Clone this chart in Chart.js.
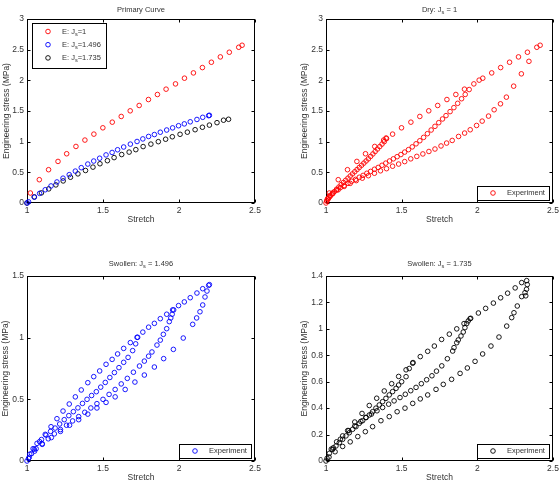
<!DOCTYPE html>
<html>
<head>
<meta charset="utf-8">
<script src="https://cdn.jsdelivr.net/npm/chart.js@4.4.1/dist/chart.umd.min.js"></script>
<style>
  html, body { margin: 0; padding: 0; background: #fff; }
  #figure { position: relative; width: 559px; height: 489px; overflow: hidden; }
  #figure canvas { position: absolute; }
</style>
</head>
<body>
<div id="figure">
  <canvas id="chart-primary" width="280" height="245" style="left:0;top:0"></canvas>
  <canvas id="chart-dry" width="279" height="245" style="left:280px;top:0"></canvas>
  <canvas id="chart-sw1" width="280" height="244" style="left:0;top:245px"></canvas>
  <canvas id="chart-sw2" width="279" height="244" style="left:280px;top:245px"></canvas>
</div>
<script>
// tick labels
const stretchTicks = [1, 1.5, 2, 2.5];
const stressTicksDry = [0, 0.5, 1, 1.5, 2, 2.5, 3];
const stressTicksSw1 = [0, 0.5, 1, 1.5];
const stressTicksSw2 = [0, 0.2, 0.4, 0.6, 0.8, 1, 1.2, 1.4];

// primary curves (Js = 1, 1.496, 1.735)
const primaryDryStretch = [1.022, 1.081, 1.142, 1.204, 1.261, 1.322, 1.381, 1.440, 1.499, 1.561, 1.620, 1.679, 1.738, 1.799, 1.858, 1.915, 1.977, 2.036, 2.095, 2.154, 2.213, 2.272, 2.331, 2.393, 2.415];
const primaryDryStress = [0.163, 0.380, 0.543, 0.678, 0.803, 0.922, 1.026, 1.123, 1.226, 1.318, 1.411, 1.503, 1.590, 1.687, 1.769, 1.856, 1.942, 2.035, 2.121, 2.208, 2.295, 2.382, 2.458, 2.539, 2.572];

const primarySw1Stretch = [1.00, 1.01, 1.048, 1.083, 1.12, 1.158, 1.197, 1.237, 1.278, 1.318, 1.357, 1.40, 1.439, 1.478, 1.52, 1.56, 1.596, 1.636, 1.68, 1.724, 1.762, 1.80, 1.838, 1.877, 1.919, 1.958, 1.997, 2.035, 2.074, 2.118, 2.156, 2.195, 2.20];
const primarySw1Stress = [0.00, 0.02, 0.095, 0.157, 0.216, 0.278, 0.343, 0.405, 0.462, 0.52, 0.576, 0.635, 0.684, 0.73, 0.784, 0.824, 0.868, 0.913, 0.96, 1.003, 1.045, 1.085, 1.116, 1.154, 1.19, 1.225, 1.26, 1.29, 1.324, 1.362, 1.397, 1.424, 1.43];

const primarySw2Stretch = [1.00, 1.048, 1.095, 1.143, 1.19, 1.238, 1.286, 1.335, 1.385, 1.434, 1.48, 1.529, 1.573, 1.623, 1.672, 1.716, 1.764, 1.815, 1.864, 1.912, 1.956, 2.007, 2.055, 2.106, 2.154, 2.20, 2.25, 2.293, 2.326];
const primarySw2Stress = [0.00, 0.10, 0.165, 0.23, 0.295, 0.36, 0.42, 0.475, 0.53, 0.585, 0.64, 0.69, 0.74, 0.79, 0.83, 0.87, 0.92, 0.96, 1.0, 1.04, 1.08, 1.12, 1.155, 1.195, 1.235, 1.27, 1.31, 1.35, 1.365];

// dry experiment: extra points and unloading branches
const dryPairStretch = [1.0, 1.397, 2.012];
const dryPairStress = [0.0, 1.06, 2.003];
const dryUnload1Stretch = [1.40, 1.385, 1.37, 1.355, 1.34, 1.325, 1.31, 1.295, 1.28, 1.265, 1.25, 1.235, 1.22, 1.205, 1.19, 1.175, 1.16, 1.145, 1.13, 1.115, 1.10, 1.085, 1.07, 1.055, 1.04, 1.028, 1.016, 1.006];
const dryUnload1Stress = [1.05, 1.00, 0.96, 0.92, 0.88, 0.84, 0.80, 0.76, 0.72, 0.685, 0.65, 0.615, 0.58, 0.545, 0.51, 0.475, 0.44, 0.405, 0.37, 0.335, 0.30, 0.26, 0.225, 0.185, 0.145, 0.11, 0.07, 0.03];
const dryUnload2Stretch = [1.946, 1.92, 1.896, 1.87, 1.845, 1.82, 1.793, 1.77, 1.745, 1.72, 1.695, 1.67, 1.645, 1.62, 1.595, 1.57, 1.545, 1.52, 1.495, 1.47, 1.445, 1.42, 1.395, 1.37, 1.345, 1.32, 1.295, 1.27, 1.245, 1.22, 1.195, 1.17, 1.145, 1.12, 1.095, 1.07, 1.045, 1.025, 1.01];
const dryUnload2Stress = [1.85, 1.77, 1.70, 1.625, 1.555, 1.49, 1.425, 1.37, 1.31, 1.25, 1.19, 1.13, 1.07, 1.015, 0.965, 0.915, 0.87, 0.83, 0.79, 0.755, 0.72, 0.685, 0.65, 0.615, 0.58, 0.55, 0.515, 0.485, 0.45, 0.42, 0.385, 0.355, 0.32, 0.285, 0.25, 0.21, 0.165, 0.12, 0.07];
const dryUnload3Stretch = [2.341, 2.291, 2.24, 2.192, 2.153, 2.111, 2.074, 2.032, 1.995, 1.953, 1.916, 1.876, 1.834, 1.797, 1.76, 1.72, 1.68, 1.64, 1.60, 1.56, 1.52, 1.48, 1.44, 1.40, 1.36, 1.32, 1.28, 1.24, 1.20, 1.16, 1.12, 1.08, 1.045, 1.02, 1.005];
const dryUnload3Stress = [2.31, 2.106, 1.905, 1.726, 1.617, 1.52, 1.417, 1.335, 1.264, 1.194, 1.14, 1.085, 1.02, 0.977, 0.93, 0.88, 0.84, 0.80, 0.76, 0.72, 0.675, 0.635, 0.60, 0.56, 0.525, 0.485, 0.445, 0.405, 0.365, 0.32, 0.27, 0.215, 0.155, 0.095, 0.04];

// swollen Js = 1.496
const sw1PairStretch = [1.728, 1.965];
const sw1PairStress = [1.003, 1.225];
const sw1Unload1Stretch = [1.715, 1.695, 1.665, 1.636, 1.605, 1.575, 1.545, 1.515, 1.485, 1.456, 1.425, 1.395, 1.365, 1.335, 1.305, 1.275, 1.245, 1.215, 1.185, 1.155, 1.125, 1.095, 1.066, 1.04, 1.018];
const sw1Unload1Stress = [0.95, 0.895, 0.84, 0.80, 0.757, 0.717, 0.677, 0.637, 0.599, 0.562, 0.531, 0.50, 0.467, 0.431, 0.40, 0.368, 0.335, 0.30, 0.267, 0.24, 0.21, 0.174, 0.143, 0.10, 0.055];
const sw1Unload2Stretch = [1.955, 1.946, 1.936, 1.919, 1.897, 1.877, 1.855, 1.822, 1.80, 1.772, 1.74, 1.70, 1.66, 1.62, 1.58, 1.54, 1.50, 1.46, 1.42, 1.38, 1.34, 1.30, 1.26, 1.22, 1.18, 1.14, 1.10, 1.06, 1.03];
const sw1Unload2Stress = [1.19, 1.16, 1.13, 1.073, 1.027, 0.98, 0.94, 0.884, 0.85, 0.81, 0.77, 0.72, 0.67, 0.625, 0.58, 0.54, 0.50, 0.465, 0.43, 0.395, 0.36, 0.325, 0.29, 0.255, 0.22, 0.18, 0.14, 0.10, 0.06];
const sw1Unload3Stretch = [2.184, 2.171, 2.156, 2.138, 2.116, 2.09, 2.028, 1.963, 1.899, 1.838, 1.772, 1.71, 1.646, 1.58, 1.52, 1.46, 1.40, 1.34, 1.28, 1.22, 1.16, 1.10, 1.05, 1.015];
const sw1Unload3Stress = [1.378, 1.33, 1.265, 1.21, 1.16, 1.108, 0.997, 0.905, 0.83, 0.762, 0.697, 0.64, 0.58, 0.52, 0.475, 0.43, 0.38, 0.335, 0.29, 0.24, 0.19, 0.135, 0.08, 0.03];

// swollen Js = 1.735
const sw2Unload1Stretch = [1.575, 1.55, 1.529, 1.50, 1.48, 1.463, 1.44, 1.418, 1.396, 1.374, 1.352, 1.33, 1.308, 1.286, 1.264, 1.242, 1.22, 1.198, 1.176, 1.154, 1.132, 1.11, 1.088, 1.066, 1.044, 1.022, 1.007];
const sw2Unload1Stress = [0.745, 0.70, 0.638, 0.60, 0.575, 0.55, 0.525, 0.50, 0.474, 0.449, 0.424, 0.40, 0.373, 0.348, 0.328, 0.305, 0.285, 0.26, 0.24, 0.214, 0.19, 0.164, 0.139, 0.114, 0.088, 0.058, 0.02];
const sw2Unload2Stretch = [1.952, 1.94, 1.93, 1.918, 1.907, 1.892, 1.874, 1.864, 1.846, 1.837, 1.802, 1.765, 1.73, 1.70, 1.665, 1.63, 1.595, 1.56, 1.524, 1.489, 1.45, 1.414, 1.374, 1.337, 1.30, 1.264, 1.23, 1.19, 1.15, 1.11, 1.07, 1.035];
const sw2Unload2Stress = [1.077, 1.06, 1.04, 1.009, 0.976, 0.946, 0.916, 0.895, 0.858, 0.832, 0.774, 0.72, 0.68, 0.645, 0.615, 0.585, 0.557, 0.532, 0.505, 0.48, 0.455, 0.43, 0.405, 0.38, 0.355, 0.33, 0.30, 0.265, 0.23, 0.19, 0.145, 0.09];
const sw2Unload3Stretch = [2.33, 2.325, 2.32, 2.315, 2.293, 2.264, 2.242, 2.227, 2.194, 2.143, 2.09, 2.035, 1.985, 1.934, 1.886, 1.83, 1.775, 1.727, 1.672, 1.623, 1.573, 1.522, 1.47, 1.418, 1.363, 1.308, 1.26, 1.21, 1.16, 1.11, 1.06, 1.02];
const sw2Unload3Stress = [1.335, 1.30, 1.25, 1.274, 1.244, 1.173, 1.122, 1.085, 1.021, 0.938, 0.87, 0.81, 0.754, 0.704, 0.663, 0.618, 0.58, 0.542, 0.50, 0.47, 0.436, 0.40, 0.373, 0.336, 0.305, 0.26, 0.222, 0.185, 0.145, 0.11, 0.07, 0.03];

const RED = 'rgb(255,0,0)';
const BLUE = 'rgb(0,0,255)';
const BLACK = 'rgb(0,0,0)';
const TEXT = '#333333';
const FAMILY = "'Liberation Sans', Arial, Helvetica, sans-serif";
const FONT_SIZE = 8.5;
const SMALL_SIZE = 7.5;

function toPoints(xs, ys) {
  return xs.map((x, i) => ({ x: x, y: ys[i] }));
}

function dataset(legendText, points, color) {
  return {
    label: legendText.join(''),
    legendText: legendText,
    data: points,
    showLine: false,
    clip: false,
    pointStyle: 'circle',
    pointRadius: 2.3,
    pointBorderWidth: 0.9,
    pointBorderColor: color,
    pointBackgroundColor: 'rgba(0,0,0,0)',
    borderColor: color,
    backgroundColor: 'rgba(0,0,0,0)'
  };
}

// text with "_x" parts drawn as subscript
function drawRich(ctx, parts, x, y, align, size) {
  const base = size + 'px ' + FAMILY;
  const small = (size * 0.75) + 'px ' + FAMILY;
  let width = 0;
  parts.forEach(p => {
    ctx.font = p[0] === '_' ? small : base;
    width += ctx.measureText(p[0] === '_' ? p.slice(1) : p).width;
  });
  let cx = align === 'center' ? x - width / 2 : x;
  ctx.textAlign = 'left';
  ctx.textBaseline = 'middle';
  parts.forEach(p => {
    const sub = p[0] === '_';
    const t = sub ? p.slice(1) : p;
    ctx.font = sub ? small : base;
    ctx.fillText(t, cx, sub ? y + 2.5 : y);
    cx += ctx.measureText(t).width;
  });
}

// box and inward ticks like the MATLAB axes
const matlabAxes = {
  id: 'matlabAxes',
  beforeDatasetsDraw(chart) {
    const ctx = chart.ctx;
    const a = chart.chartArea;
    const xs = chart.scales.x;
    const ys = chart.scales.y;
    const L = Math.round(a.left) + 0.5;
    const R = Math.round(a.right) - 0.5;
    const T = Math.round(a.top) + 0.5;
    const B = Math.round(a.bottom) - 0.5;
    const len = 3;
    ctx.save();
    ctx.strokeStyle = '#000';
    ctx.lineWidth = 1;
    ctx.strokeRect(L, T, R - L, B - T);
    ctx.beginPath();
    xs.ticks.forEach(t => {
      const px = Math.round(xs.getPixelForValue(t.value)) + 0.5;
      ctx.moveTo(px, B); ctx.lineTo(px, B - len);
      ctx.moveTo(px, T); ctx.lineTo(px, T + len);
    });
    ys.ticks.forEach(t => {
      const py = Math.round(ys.getPixelForValue(t.value)) + 0.5;
      ctx.moveTo(L, py); ctx.lineTo(L + len, py);
      ctx.moveTo(R, py); ctx.lineTo(R - len, py);
    });
    ctx.stroke();
    ctx.restore();
  }
};

// subplot title and legend box
const panelDecor = {
  id: 'panelDecor',
  afterDraw(chart, args, opts) {
    const ctx = chart.ctx;
    const a = chart.chartArea;
    ctx.save();
    ctx.fillStyle = TEXT;
    drawRich(ctx, opts.title, (a.left + a.right) / 2, a.top - opts.titleGap, 'center', SMALL_SIZE);

    let bx, by, bw, bh;
    if (opts.legend === 'primary') {
      bw = 74; bh = 45; bx = a.left + 5; by = a.top + 4;
    } else {
      bw = 72; bh = 14; bx = a.right - 4 - bw; by = a.bottom - 3 - bh;
    }
    ctx.fillStyle = '#fff';
    ctx.fillRect(bx, by, bw, bh);
    ctx.strokeStyle = '#000';
    ctx.lineWidth = 1;
    ctx.strokeRect(Math.round(bx) + 0.5, Math.round(by) + 0.5, bw, bh);
    chart.data.datasets.forEach((ds, i) => {
      const ry = by + (opts.legend === 'primary' ? 8.5 + i * 13.2 : 7);
      ctx.beginPath();
      ctx.arc(bx + 16, ry, 2.3, 0, Math.PI * 2);
      ctx.strokeStyle = ds.pointBorderColor;
      ctx.lineWidth = 0.9;
      ctx.stroke();
      ctx.fillStyle = TEXT;
      drawRich(ctx, ds.legendText, bx + 30, ry, 'left', SMALL_SIZE);
    });
    ctx.restore();
  }
};

function fmt(v) {
  return String(Math.round(v * 10) / 10);
}

const panels = [
  {
    canvas: 'chart-primary', title: ['Primary Curve'], titleGap: 9, legend: 'primary',
    yMax: 3, yTicks: stressTicksDry,
    yWidth: 27, padRight: 25, padTop: 19, xHeight: 42, yTitlePad: 2, xTitlePad: 20,
    datasets: [
      dataset(['E: J', '_s', '=1'], toPoints(primaryDryStretch, primaryDryStress), RED),
      dataset(['E: J', '_s', '=1.496'], toPoints(primarySw1Stretch, primarySw1Stress), BLUE),
      dataset(['E: J', '_s', '=1.735'], toPoints(primarySw2Stretch, primarySw2Stress), BLACK)
    ]
  },
  {
    canvas: 'chart-dry', title: ['Dry: J', '_s', ' = 1'], titleGap: 9, legend: 'experiment',
    yMax: 3, yTicks: stressTicksDry,
    yWidth: 46, padRight: 6, padTop: 19, xHeight: 42, yTitlePad: 20, xTitlePad: 20,
    datasets: [
      dataset(['Experiment'], [].concat(
        toPoints(primaryDryStretch, primaryDryStress),
        toPoints(dryPairStretch, dryPairStress),
        toPoints(dryUnload1Stretch, dryUnload1Stress),
        toPoints(dryUnload2Stretch, dryUnload2Stress),
        toPoints(dryUnload3Stretch, dryUnload3Stress)), RED)
    ]
  },
  {
    canvas: 'chart-sw1', title: ['Swollen: J', '_s', ' = 1.496'], titleGap: 12, legend: 'experiment',
    yMax: 1.5, yTicks: stressTicksSw1,
    yWidth: 27, padRight: 25, padTop: 31, xHeight: 28, yTitlePad: 1, xTitlePad: 6,
    datasets: [
      dataset(['Experiment'], [].concat(
        toPoints(primarySw1Stretch, primarySw1Stress),
        toPoints(sw1PairStretch, sw1PairStress),
        toPoints(sw1Unload1Stretch, sw1Unload1Stress),
        toPoints(sw1Unload2Stretch, sw1Unload2Stress),
        toPoints(sw1Unload3Stretch, sw1Unload3Stress)), BLUE)
    ]
  },
  {
    canvas: 'chart-sw2', title: ['Swollen: J', '_s', ' = 1.735'], titleGap: 12, legend: 'experiment',
    yMax: 1.4, yTicks: stressTicksSw2,
    yWidth: 46, padRight: 6, padTop: 31, xHeight: 28, yTitlePad: 20, xTitlePad: 6,
    datasets: [
      dataset(['Experiment'], [].concat(
        toPoints(primarySw2Stretch, primarySw2Stress),
        toPoints(sw2Unload1Stretch, sw2Unload1Stress),
        toPoints(sw2Unload2Stretch, sw2Unload2Stress),
        toPoints(sw2Unload3Stretch, sw2Unload3Stress)), BLACK)
    ]
  }
];

Chart.defaults.font.family = FAMILY;
Chart.defaults.font.size = FONT_SIZE;
Chart.defaults.color = TEXT;

panels.forEach(p => {
  const ctx = document.getElementById(p.canvas);
  new Chart(ctx, {
    type: 'scatter',
    data: { datasets: p.datasets },
    plugins: [matlabAxes, panelDecor],
    options: {
      responsive: false,
      animation: false,
      events: [],
      layout: { padding: { left: 0, right: p.padRight, top: p.padTop, bottom: 0 } },
      plugins: {
        legend: { display: false },
        tooltip: { enabled: false },
        panelDecor: { title: p.title, titleGap: p.titleGap, legend: p.legend }
      },
      scales: {
        x: {
          type: 'linear', position: 'bottom', min: 1, max: 2.5,
          afterBuildTicks: s => { s.ticks = stretchTicks.map(v => ({ value: v })); },
          afterFit: s => { s.height = p.xHeight; s.paddingLeft = 0; s.paddingRight = 0; },
          grid: { display: false, drawTicks: false },
          border: { display: false },
          ticks: { padding: 3, autoSkip: false, maxRotation: 0, color: TEXT, callback: v => fmt(v) },
          title: { display: true, text: 'Stretch', color: TEXT, padding: { top: 0, bottom: p.xTitlePad } }
        },
        y: {
          type: 'linear', position: 'left', min: 0, max: p.yMax,
          afterBuildTicks: s => { s.ticks = p.yTicks.map(v => ({ value: v })); },
          afterFit: s => { s.width = p.yWidth; s.paddingTop = 0; s.paddingBottom = 0; },
          grid: { display: false, drawTicks: false },
          border: { display: false },
          ticks: { padding: 3, autoSkip: false, color: TEXT, callback: v => fmt(v) },
          title: { display: true, text: 'Engineering stress (MPa)', color: TEXT, padding: { top: p.yTitlePad, bottom: 0 } }
        }
      }
    }
  });
});
</script>
</body>
</html>
